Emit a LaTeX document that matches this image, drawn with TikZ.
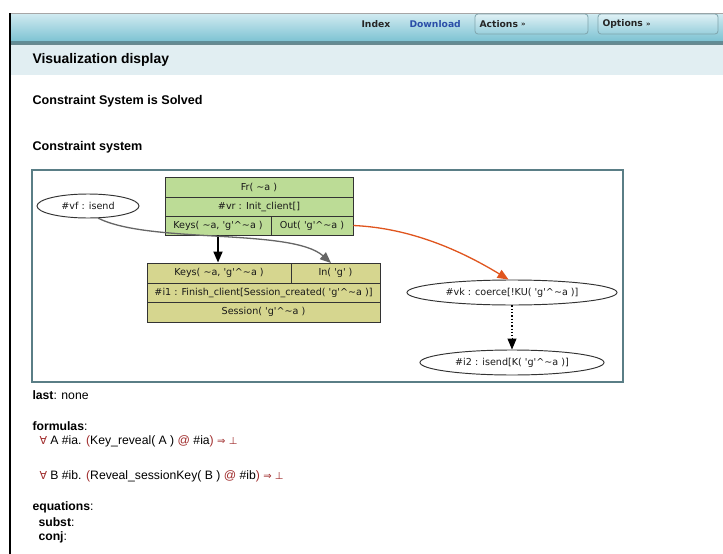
\documentclass[tikz,border=0pt]{standalone}
\usepackage{fontspec}
\setmainfont{Liberation Sans}
\newfontfamily\gvfont{DejaVu Sans}
\newfontfamily\navfont{DejaVu Sans}
\newfontfamily\symfont{DejaVu Sans}
\usetikzlibrary{arrows.meta,shapes.geometric}
\newcommand\mytl{\textasciitilde}
\newcommand\mycrt{\textasciicircum}
\newcommand\forallsym{{\color{redsym}\symfont\fontsize{11}{14}\selectfont ∀}}
\newcommand\impbot{{\color{redsym}\symfont\fontsize{10}{14}\selectfont ⇒ ⊥}}
\definecolor{hdrtop}{HTML}{D2EBF1}
\definecolor{hdrbot}{HTML}{7EC3D3}
\definecolor{hdrline}{HTML}{5F8D97}
\definecolor{subband}{HTML}{E1EEF2}
\definecolor{gframe}{HTML}{5A7E86}
\definecolor{greenfill}{HTML}{BCDC96}
\definecolor{olivefill}{HTML}{D6D68F}
\definecolor{boxline}{HTML}{333333}
\definecolor{navblue}{HTML}{2B4EA8}
\definecolor{redsym}{HTML}{A02C2C}
\definecolor{orangeedge}{HTML}{E0551E}
\definecolor{grayedge}{HTML}{666666}
\tikzset{
  cell/.style={draw=boxline, line width=0.95pt, inner sep=0pt, font=\gvfont\fontsize{9.6}{11}\selectfont, text=black!90},
  gcell/.style={cell, fill=greenfill},
  ocell/.style={cell, fill=olivefill},
  oval/.style={draw=boxline, line width=0.95pt, ellipse, inner sep=0pt, fill=white, font=\gvfont\fontsize{9.6}{11}\selectfont, text=black!90},
  navbtn/.style={draw=hdrline!80, rounded corners=3pt, top color=hdrtop!70!white, bottom color=hdrbot!80!white, line width=0.8pt, minimum height=20, inner sep=0pt},
  navtxt/.style={font=\navfont\bfseries\fontsize{9.2}{11}\selectfont, anchor=west},
  head/.style={font=\bfseries\fontsize{12.6}{14}\selectfont, anchor=west},
  txt/.style={font=\fontsize{12.2}{14}\selectfont, anchor=west},
  tip/.style={-{Triangle[length=11pt,width=9pt]}},
}
\begin{document}
\begin{tikzpicture}[x=1pt,y=-1pt]
\useasboundingbox (0,0) rectangle (723,554);
\fill[white] (0,0) rectangle (723,554);
% header
\shade[top color=hdrtop, bottom color=hdrbot] (10,13) rectangle (723,41);
\shade[top color=hdrline, bottom color=hdrline!60!gray] (10,41) rectangle (723,45);
\draw[gray!70, line width=0.8pt] (10,13) -- (723,13);
\fill[subband] (10,45) rectangle (723,75);
\draw[black, line width=1.2pt] (10,13) -- (10,554);
% nav
\node[navtxt, text=black!85] (index) at (358,24) {Index};
\node[navtxt, text=navblue] (download) at (406,24) {Download};
\node[navbtn, minimum width=113] (actions) at (531.5,24) {};
\node[navtxt, text=black!85] (actionsl) at (476,24) {Actions \raisebox{0.5pt}{\fontsize{7}{8}\selectfont»}};
\node[navbtn, minimum width=120] (options) at (658,24) {};
\node[navtxt, text=black!85] (optionsl) at (599,24) {Options \raisebox{0.5pt}{\fontsize{7}{8}\selectfont»}};
% titles
\node[font=\bfseries\fontsize{13.9}{16}\selectfont, anchor=west] (vis) at (29,60) {Visualization display};
\node[head] (solved) at (29,101) {Constraint System is Solved};
\node[head] (csys) at (29,147) {Constraint system};
% graph frame
\draw[gframe, line width=1.5pt] (32,170) rectangle (623,382);
% green record
\node[gcell, minimum width=188, minimum height=20] (fr) at (259,187) {Fr( \mytl a )};
\node[gcell, minimum width=188, minimum height=19] (vr) at (259,206.5) {\#vr : Init\_client[]};
\node[gcell, minimum width=106, minimum height=19] (keys1) at (218,225.5) {Keys( \mytl a, 'g'\mycrt\mytl a )};
\node[gcell, minimum width=82, minimum height=19] (out1) at (312,225.5) {Out( 'g'\mycrt\mytl a )};
% olive record
\node[ocell, minimum width=144, minimum height=20] (keys2) at (219,273) {Keys( \mytl a, 'g'\mycrt\mytl a )};
\node[ocell, minimum width=89, minimum height=20] (in2) at (335.5,273) {In( 'g' )};
\node[ocell, minimum width=233, minimum height=19] (i1) at (263.5,292.5) {\#i1 : Finish\_client[Session\_created( 'g'\mycrt\mytl a )]};
\node[ocell, minimum width=233, minimum height=20] (sess) at (263.5,312) {Session( 'g'\mycrt\mytl a )};
% ellipses
\node[oval, minimum width=102, minimum height=24] (vf) at (88,206) {\#vf : isend};
\node[oval, minimum width=210, minimum height=25] (vk) at (512,292.5) {\#vk : coerce[!KU( 'g'\mycrt\mytl a )]};
\node[oval, minimum width=184, minimum height=25] (i2) at (512,362.5) {\#i2 : isend[K( 'g'\mycrt\mytl a )]};
% edges
\draw[black, line width=1.8pt, tip] (keys1.south) -- (keys2.north -| keys1.south);
\coordinate (gvend) at (331,263);
\draw[grayedge, line width=1.3pt, tip] (vf.-50) .. controls (150,244) and (292,228) .. (gvend);
\draw[orangeedge, line width=1.3pt, tip] (out1.east) .. controls (410,228) and (460,250) .. (vk.105);
\coordinate (dotend) at ([yshift=12pt]i2.north);
\draw[black, line width=1.3pt, dotted] (vk.south) -- (dotend);
\draw[black, line width=1pt, tip] (dotend) -- (i2.north);
% text below
\node[txt] (last) at (29,395) {\textbf{last}: none};
\node[txt] (formulas) at (29,426) {\textbf{formulas}:};
\node[txt] (f1) at (36,441) {\forallsym{} A \#ia. {\color{redsym}(}Key\_reveal( A ) {\color{redsym}@} \#ia{\color{redsym})} \impbot};
\node[txt] (f2) at (36,476) {\forallsym{} B \#ib. {\color{redsym}(}Reveal\_sessionKey( B ) {\color{redsym}@} \#ib{\color{redsym})} \impbot};
\node[txt] (eqs) at (29,507) {\textbf{equations}:};
\node[txt] (subst) at (35,522) {\textbf{subst}:};
\node[txt] (conj) at (35,537) {\textbf{conj}:};
\end{tikzpicture}
\end{document}
